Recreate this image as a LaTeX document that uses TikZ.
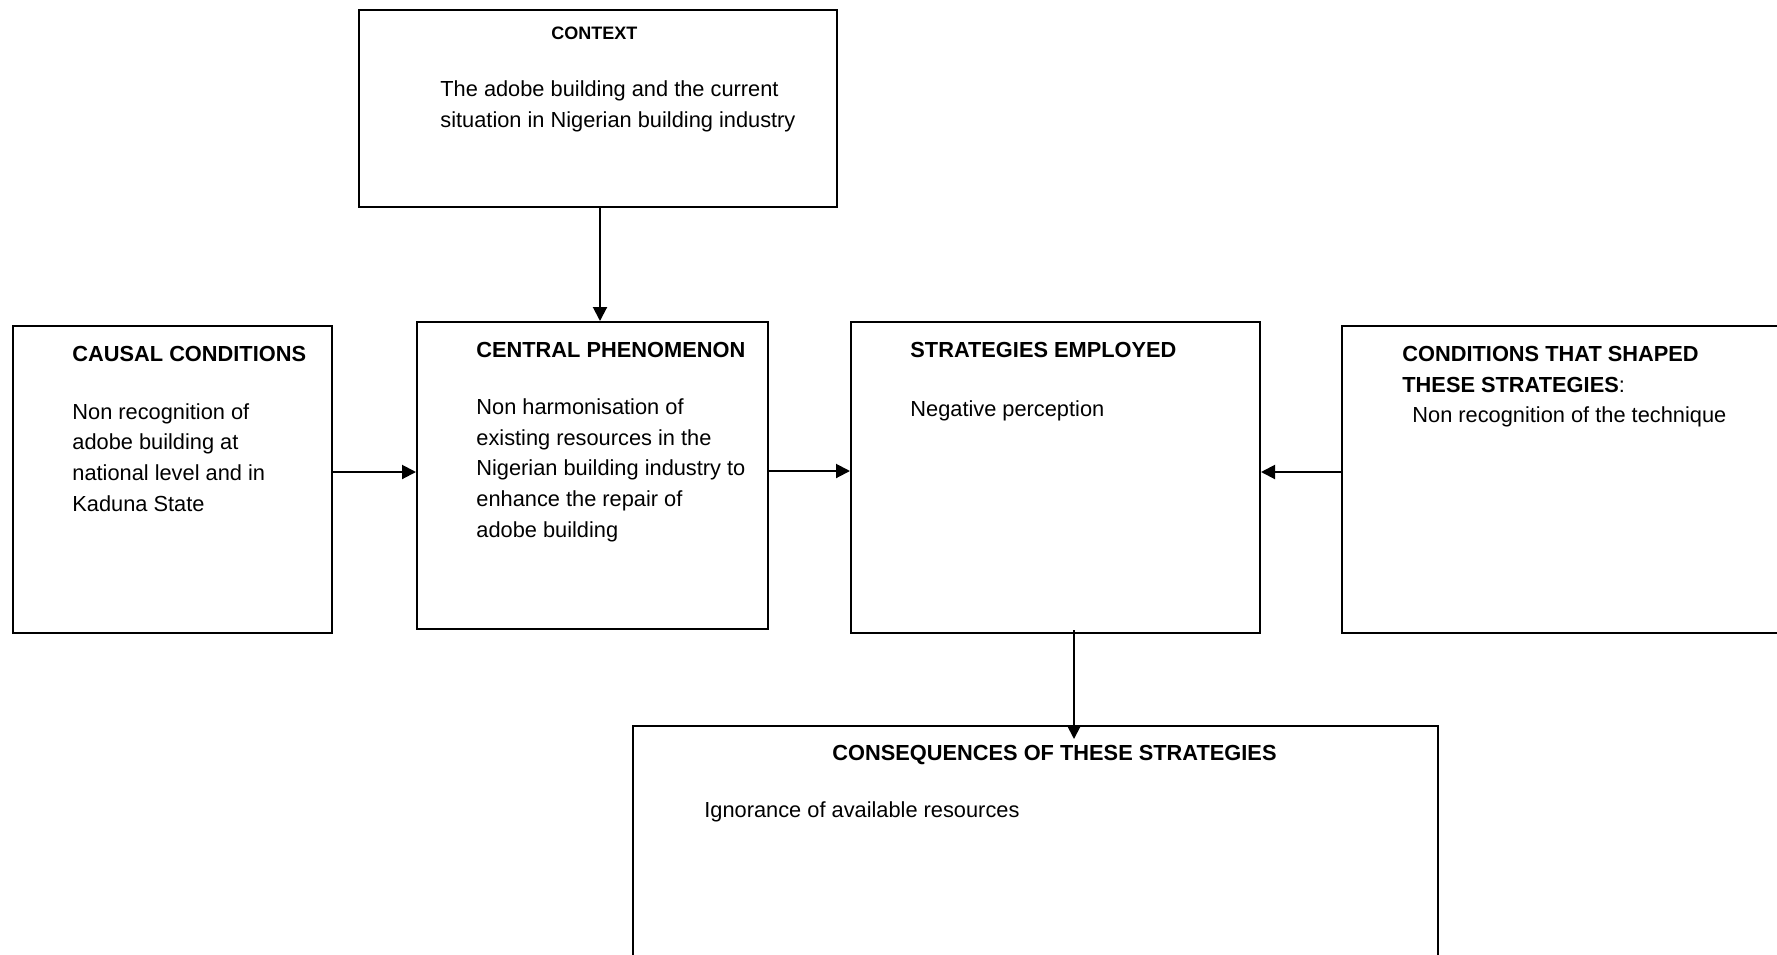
\documentclass[tikz,border=0pt]{standalone}
\usepackage{fontspec}
\setmainfont{Liberation Sans}
\usetikzlibrary{arrows.meta}
\begin{document}
\begin{tikzpicture}[x=0.5pt,y=-0.5pt,
  box/.style={draw,line width=1pt,inner sep=0pt,rectangle},
  arr/.style={line width=1pt,-{Triangle[length=7pt,width=7pt]}},
  txt/.style={anchor=base west,inner sep=0pt,align=left,font=\fontsize{10.9pt}{15.3pt}\selectfont},
  hd/.style={txt,font=\fontsize{10.9pt}{15.3pt}\selectfont\bfseries},
  smallhd/.style={txt,font=\fontsize{9pt}{11pt}\selectfont\bfseries}]
\useasboundingbox (0,0) rectangle (1777,954);
% boxes
\node[box,minimum width=239pt,minimum height=98.5pt] (ctx) at (598,108.5) {};
\node[box,minimum width=159.5pt,minimum height=153.5pt] (cau) at (172.5,479.5) {};
\node[box,minimum width=175.5pt,minimum height=153.5pt] (cen) at (592.5,475.5) {};
\node[box,minimum width=204.5pt,minimum height=155.5pt] (str) at (1055.5,477.5) {};
\node[box,minimum width=229pt,minimum height=153.5pt] (con) at (1571,479.5) {};
\node[box,minimum width=402.5pt,minimum height=137pt] (cons) at (1035.5,863) {};
% texts (base anchor = baseline of the last line)
\node[smallhd] (ctxh) at (551,39) {CONTEXT};
\node[txt] (ctxb) at (440,127) {The adobe building and the current\\situation in Nigerian building industry};
\node[hd] (cauh) at (72,361) {CAUSAL CONDITIONS};
\node[txt] (caub) at (72,511) {Non recognition of\\adobe building at\\national level and in\\Kaduna State};
\node[hd] (cenh) at (476,357) {CENTRAL PHENOMENON};
\node[txt] (cenb) at (476,537) {Non harmonisation of\\existing resources in the\\Nigerian building industry to\\enhance the repair of\\adobe building};
\node[hd] (strh) at (910,357) {STRATEGIES EMPLOYED};
\node[txt] (strb) at (910,416) {Negative perception};
\node[hd] (conh) at (1402,392) {CONDITIONS THAT SHAPED\\THESE STRATEGIES\textmd{:}};
\node[txt] (conb) at (1412,422) {Non recognition of the technique};
\node[hd] (consh) at (832,760) {CONSEQUENCES OF THESE STRATEGIES};
\node[txt] (consb) at (704,817) {Ignorance of available resources};
% connectors
\draw[arr] ([xshift=1pt]ctx.south) -- ([xshift=1pt]ctx.south |- cen.north);
\draw[arr] ([yshift=1.75pt]cen.west -| cau.east) -- ([yshift=1.75pt]cen.west);
\draw[arr] ([yshift=2.25pt]cen.east) -- ([yshift=2.25pt]cen.east -| str.west);
\draw[arr] ([yshift=3.75pt]con.west) -- ([yshift=3.75pt]con.west -| str.east);
\draw[arr,shorten >=-7pt] ([xshift=9.25pt,yshift=2pt]str.south) -- ([xshift=9.25pt]str.south |- cons.north);
\end{tikzpicture}
\end{document}
